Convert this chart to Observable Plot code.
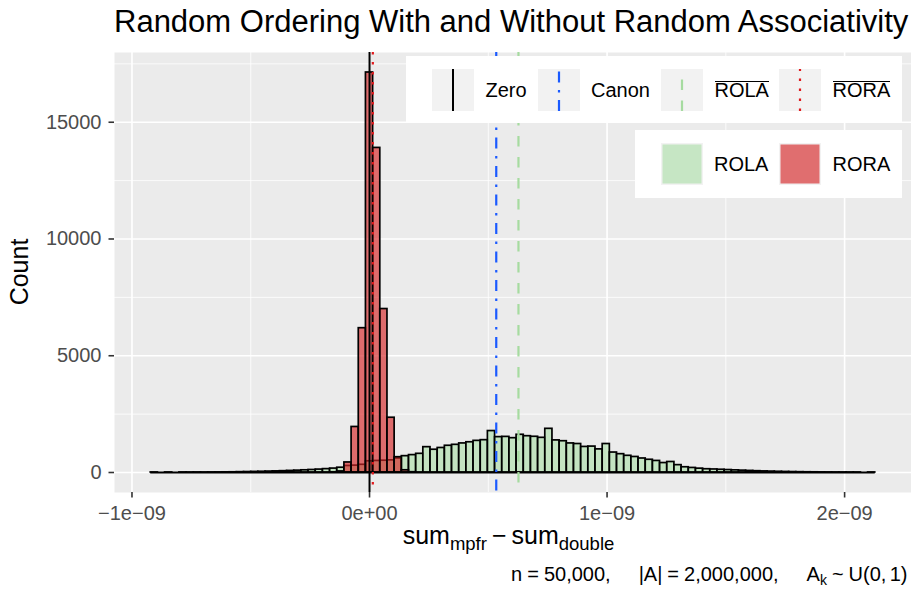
<!DOCTYPE html>
<html>
<head>
<meta charset="utf-8">
<script src="https://cdn.jsdelivr.net/npm/d3@7"></script>
<script src="https://cdn.jsdelivr.net/npm/@observablehq/plot@0.6"></script>
<style>
  html, body { margin:0; padding:0; background:#fff; }
  #wrap { position:relative; width:911px; height:597px; overflow:hidden;
          font-family:"Liberation Sans", Arial, Helvetica, sans-serif; color:#000; }
  #chart { position:absolute; left:0; top:40px; }
  .abs { position:absolute; white-space:nowrap; }
  .box { position:absolute; background:#fff; }
  .key { position:absolute; width:42px; height:42px; background:#f2f2f2; }
  .key svg { display:block; }
  .lab { position:absolute; font-size:20px; line-height:20px; white-space:nowrap; }
  .ov { position:relative; }
  .ov::before { content:""; position:absolute; left:0; right:0; top:2px; border-top:1.4px solid #000; }
  sub { vertical-align:baseline; position:relative; }
</style>
</head>
<body>
<div id="wrap">
  <div id="chart"></div>
  <div id="title" class="abs" style="left:114px; top:5.8px; font-size:31px; line-height:31px;"></div>
  <div id="ylab" class="abs" style="left:7.1px; top:372px; width:200px; text-align:center; font-size:25px; line-height:25px; transform-origin:0 0; transform:rotate(-90deg);"></div>
  <div id="xlab" class="abs" style="left:110px; top:522.8px; width:797px; text-align:center; font-size:25px; line-height:25px;"></div>
  <div id="caption" class="abs" style="right:3.5px; top:564.1px; font-size:20px; line-height:20px;"></div>
  <div id="legends"></div>
</div>
<script>
// ---------------- data ----------------
const titleText = "Random Ordering With and Without Random Associativity";
const yTitle = "Count";
const groups = ["ROLA", "RORA"];
const binWidth = 3.02e-11;      // histogram bin width (bins centred on multiples of it)
const firstBinIndex = -30;      // first bin is centred at -30 * binWidth
// counts per bin, bins k = -30 ... 70
const rolaCounts = [
  1, 0, 1, 0, 2, 1, 3, 2, 4, 5, 7, 9,
  15, 20, 26, 32, 40, 48, 57, 68, 80, 94, 108, 125, 145, 168,
  205, 280, 295, 330,
  480, 495, 505, 520, 600, 700,
  745, 800, 1085, 975, 1050, 1145, 1185, 1245, 1295, 1355, 1385,
  1775, 1515, 1525, 1470, 1615, 1555, 1530, 1485, 1870, 1375, 1340, 1245, 1220, 1095, 1110, 990, 1220,
  855, 785, 715, 665, 600, 545, 495, 405, 450, 315, 225, 195, 165, 140, 130,
  118, 105, 92, 80, 68, 56, 47, 39, 31, 24, 19, 14, 10, 8, 5, 4, 3, 2, 1, 1, 0, 1
];
const roraCounts = [
  0, 0, 0, 0, 0, 0, 0, 0, 0, 0, 0, 0, 0, 0, 0, 0, 0, 0, 0, 0, 0, 0, 0, 0, 0,
  8, 45, 430, 1950, 6180, 17130, 13900, 7000, 2345, 655, 95, 12,
  0, 0, 0, 0, 0, 0, 0, 0, 0, 0, 0, 0, 0, 0, 0, 0, 0, 0, 0, 0, 0, 0, 0, 0, 0, 0, 0, 0, 0, 0, 0, 0,
  0, 0, 0, 0, 0, 0, 0, 0, 0, 0, 0, 0, 0, 0, 0, 0, 0, 0, 0, 0, 0, 0, 0, 0, 0, 0, 0, 0, 0, 0, 0, 0
];
const refLineNames = ["Zero", "Canon", "ROLA", "RORA"];
const refLineValues = [0, 5.335e-10, 6.27e-10, 1.39e-11];
const refLineOverlined = [false, false, true, true];
const xTicks = [-1e-9, 0, 1e-9, 2e-9];
const xTickLabels = ["\u22121e\u221209", "0e+00", "1e\u221209", "2e\u221209"];
const xMinor = [-5e-10, 5e-10, 1.5e-9];
const yTicks = [0, 5000, 10000, 15000];
const yTickLabels = ["0", "5000", "10000", "15000"];
const yMinor = [2500, 7500, 12500, 17500];

// ---------------- styles ----------------
const fillColors = {ROLA: "#aedeaa", RORA: "#d62728"};
const fillAlpha = 0.65;
const lineStyles = {
  Zero:  {stroke: "#000000", strokeWidth: 2.0, dash: null},
  Canon: {stroke: "#1a5aff", strokeWidth: 2.2, dash: "11 7.5 2.5 7.5"},
  ROLA:  {stroke: "#a6dba0", strokeWidth: 2.2, dash: "10.5 10.5"},
  RORA:  {stroke: "#e0191c", strokeWidth: 2.2, dash: "2.5 7.5"}
};

// ---------------- table ----------------
const countsByGroup = {ROLA: rolaCounts, RORA: roraCounts};
const bars = [];
for (const g of groups) {
  countsByGroup[g].forEach((c, i) => {
    const k = firstBinIndex + i;
    bars.push({group: g, x1: (k - 0.5) * binWidth, x2: (k + 0.5) * binWidth, base: 0, count: c});
  });
}
const nBins = rolaCounts.length;
const xLo = (firstBinIndex - 0.5) * binWidth;
const xHi = (firstBinIndex + nBins - 0.5) * binWidth;
const xPad = 0.05 * (xHi - xLo);
const yMax = d3.max(bars, d => d.count);
const yPad = 0.05 * yMax;
const xFmt = new Map(xTicks.map((t, i) => [t, xTickLabels[i]]));
const yFmt = new Map(yTicks.map((t, i) => [t, yTickLabels[i]]));

const marks = [
  Plot.frame({fill: "#ebebeb", stroke: "none"}),
  Plot.ruleX(xMinor, {stroke: "#ffffff", strokeWidth: 0.8}),
  Plot.ruleY(yMinor, {stroke: "#ffffff", strokeWidth: 0.8}),
  Plot.ruleX(xTicks, {stroke: "#ffffff", strokeWidth: 1.6}),
  Plot.ruleY(yTicks, {stroke: "#ffffff", strokeWidth: 1.6})
];
for (const g of groups) {
  marks.push(Plot.rectY(bars.filter(d => d.group === g), {
    x1: "x1", x2: "x2", y1: "base", y2: "count",
    fill: fillColors[g], fillOpacity: fillAlpha,
    stroke: "#000", strokeWidth: 1.7, inset: 0
  }));
}
marks.push(Plot.ruleY([0], {x1: xLo, x2: xHi, stroke: "#000", strokeWidth: 2}));
refLineNames.forEach((name, i) => {
  const s = lineStyles[name];
  marks.push(Plot.ruleX([refLineValues[i]], {
    stroke: s.stroke, strokeWidth: s.strokeWidth,
    strokeDasharray: s.dash || undefined
  }));
});
marks.push(Plot.axisX({ticks: xTicks, tickFormat: d => xFmt.get(d), tickSize: 5.5, tickPadding: 8,
  fontSize: 20, color: "#4d4d4d", stroke: "#333333", strokeWidth: 1.6, label: null}));
marks.push(Plot.axisY({ticks: yTicks, tickFormat: d => yFmt.get(d), tickSize: 5.5, tickPadding: 7.5,
  fontSize: 20, color: "#4d4d4d", stroke: "#333333", strokeWidth: 1.6, label: null}));

const chart = Plot.plot({
  width: 911, height: 515,
  marginLeft: 114, marginRight: 0, marginTop: 12, marginBottom: 63,
  style: {fontFamily: "'Liberation Sans', Arial, Helvetica, sans-serif", background: "transparent", overflow: "visible"},
  x: {domain: [xLo - xPad, xHi + xPad]},
  y: {domain: [-yPad, yMax + yPad]},
  marks
});
document.getElementById("chart").appendChild(chart);

// ---------------- texts ----------------
document.getElementById("title").textContent = titleText;
document.getElementById("ylab").textContent = yTitle;
document.getElementById("xlab").innerHTML =
  'sum<sub style="font-size:18.5px; top:6px;">mpfr</sub>\u2009\u2212\u2009sum<sub style="font-size:18.5px; top:6px;">double</sub>';
document.getElementById("caption").innerHTML =
  'n\u2005=\u200550,000,<span style="display:inline-block;width:28px"></span>|A|\u2005=\u20052,000,000,<span style="display:inline-block;width:28px"></span>A<sub style="font-size:14px; top:4px;">k</sub>\u2005~\u2005U(0,\u20061)';

// ---------------- legends ----------------
const L = document.getElementById("legends");
function add(html) { L.insertAdjacentHTML("beforeend", html); }
// line legend
add('<div class="box" style="left:406px; top:56px; width:496px; height:67px;"></div>');
const lineKeyX = [432, 538, 661, 779];
const lineLabX = [485.5, 591, 714.5, 832.5];
refLineNames.forEach((name, i) => {
  const s = lineStyles[name];
  add(`<div class="key" style="left:${lineKeyX[i]}px; top:69px;"><svg width="42" height="42">
    <line x1="21" x2="21" y1="42" y2="0" stroke="${s.stroke}" stroke-width="${s.strokeWidth}" ${s.dash ? `stroke-dasharray="${s.dash}"` : ""}/></svg></div>`);
  const txt = refLineOverlined[i] ? `<span class="ov">${name}</span>` : name;
  add(`<div class="lab" style="left:${lineLabX[i]}px; top:80.1px;">${txt}</div>`);
});
// fill legend
add('<div class="box" style="left:635px; top:130px; width:267px; height:68px;"></div>');
const fillKeyX = [660.5, 779];
const fillLabX = [714, 832.5];
groups.forEach((g, i) => {
  add(`<div class="key" style="left:${fillKeyX[i]}px; top:142.5px;"><svg width="42" height="42">
    <rect x="1.5" y="1.5" width="39" height="39" fill="${fillColors[g]}" fill-opacity="${fillAlpha}"/></svg></div>`);
  add(`<div class="lab" style="left:${fillLabX[i]}px; top:153.6px;">${g}</div>`);
});
</script>
</body>
</html>
